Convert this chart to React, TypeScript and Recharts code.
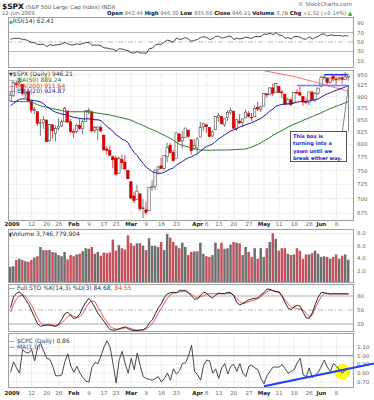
import React from "react";
import {ComposedChart, Line, Bar, Cell, XAxis, YAxis, CartesianGrid, ReferenceLine, ReferenceDot} from "recharts";

// trading days, 31 Dec 2008 .. 12 Jun 2009
const dates = [
    "12/31", "1/2", "1/5", "1/6", "1/7", "1/8", "1/9", "1/12", "1/13", "1/14", "1/15", "1/16", "1/20", "1/21", "1/22", "1/23", "1/26", "1/27", "1/28", "1/29", "1/30",
    "2/2", "2/3", "2/4", "2/5", "2/6", "2/9", "2/10", "2/11", "2/12", "2/13", "2/17", "2/18", "2/19", "2/20", "2/23", "2/24", "2/25", "2/26", "2/27",
    "3/2", "3/3", "3/4", "3/5", "3/6", "3/9", "3/10", "3/11", "3/12", "3/13", "3/16", "3/17", "3/18", "3/19", "3/20", "3/23", "3/24", "3/25", "3/26", "3/27", "3/30", "3/31",
    "4/1", "4/2", "4/3", "4/6", "4/7", "4/8", "4/9", "4/13", "4/14", "4/15", "4/16", "4/17", "4/20", "4/21", "4/22", "4/23", "4/24", "4/27", "4/28", "4/29", "4/30",
    "5/1", "5/4", "5/5", "5/6", "5/7", "5/8", "5/11", "5/12", "5/13", "5/14", "5/15", "5/18", "5/19", "5/20", "5/21", "5/22", "5/26", "5/27", "5/28", "5/29",
    "6/1", "6/2", "6/3", "6/4", "6/5", "6/8", "6/9", "6/10", "6/11", "6/12",
];

const opens = [
    890.59,
    902.99, 929.17, 931.17, 927.45, 905.73, 909.91, 890.40, 869.79, 867.28, 841.99, 844.45, 849.64, 806.77, 839.74, 822.16, 832.50, 837.30, 845.73, 868.89, 845.69,
    823.09, 825.69, 837.77, 831.75, 846.09, 868.24, 866.87, 827.41, 829.91, 833.95, 818.61, 791.06, 787.91, 775.87, 773.25, 744.69, 770.64, 765.76, 749.93,
    729.57, 704.44, 698.60, 708.27, 684.04, 680.76, 679.28, 719.59, 720.89, 751.97, 758.84, 753.88, 776.01, 797.92, 784.58, 772.31, 820.60, 806.81, 814.06, 828.68, 809.07, 790.88,
    793.59, 814.53, 835.13, 839.75, 834.12, 816.76, 829.29, 855.33, 856.88, 839.44, 854.54, 865.18, 868.27, 831.25, 847.26, 844.62, 853.91, 862.82, 854.48, 856.85, 876.59,
    872.74, 879.21, 906.10, 903.95, 919.58, 909.03, 922.99, 910.52, 905.40, 884.24, 892.76, 886.07, 909.67, 908.62, 900.42, 888.68, 887.00, 909.95, 892.96, 907.02,
    923.26, 942.87, 942.51, 932.49, 945.67, 938.12, 940.35, 942.73, 939.04, 943.44,
];
const highs = [
    910.32,
    934.73, 936.63, 943.85, 927.45, 910.00, 911.93, 890.40, 877.02, 867.28, 851.59, 858.13, 849.64, 841.72, 839.74, 838.61, 852.53, 850.45, 877.86, 868.89, 851.66,
    830.78, 842.60, 851.85, 850.55, 870.75, 875.01, 868.05, 838.22, 835.48, 839.43, 818.61, 796.17, 797.58, 778.69, 777.85, 775.49, 780.12, 779.42, 751.27,
    729.57, 711.67, 724.12, 708.27, 699.09, 695.27, 719.60, 731.92, 752.63, 758.29, 774.53, 778.12, 803.04, 803.24, 788.91, 823.37, 823.65, 826.78, 832.98, 828.68, 809.07, 810.48,
    813.62, 845.61, 842.50, 839.75, 834.12, 828.42, 856.91, 864.31, 856.88, 852.93, 870.35, 875.63, 868.27, 850.09, 861.78, 852.87, 871.80, 868.83, 864.48, 882.06, 888.70,
    880.48, 907.85, 907.70, 920.28, 929.58, 930.17, 922.99, 915.57, 905.40, 898.36, 896.97, 910.00, 916.39, 924.60, 900.42, 896.65, 911.76, 913.84, 909.45, 920.02,
    947.77, 949.38, 942.51, 942.47, 951.69, 946.33, 946.92, 949.77, 956.23, 946.30,
];
const lows = [
    889.67,
    899.35, 919.53, 927.28, 902.37, 896.81, 888.31, 864.32, 862.02, 836.93, 817.04, 830.66, 804.47, 804.30, 811.29, 806.07, 827.69, 835.40, 845.73, 844.15, 821.67,
    812.87, 821.98, 829.18, 819.91, 845.42, 861.65, 822.99, 822.30, 808.06, 825.21, 789.17, 780.43, 777.03, 754.25, 742.37, 744.69, 752.89, 751.75, 734.52,
    699.70, 692.30, 698.60, 677.93, 666.79, 672.88, 679.28, 713.85, 714.76, 742.46, 753.37, 749.93, 765.64, 781.82, 766.20, 772.31, 805.48, 791.37, 814.06, 813.43, 779.81, 790.88,
    783.32, 814.53, 826.70, 822.79, 814.53, 814.84, 829.29, 845.35, 840.25, 835.58, 847.04, 860.87, 832.39, 826.83, 840.57, 835.45, 853.91, 854.65, 847.12, 856.85, 868.51,
    866.10, 879.21, 897.34, 903.95, 901.36, 909.03, 908.68, 896.46, 882.79, 882.52, 878.94, 886.07, 905.22, 901.37, 879.61, 883.75, 881.46, 891.87, 887.60, 903.56,
    923.26, 938.46, 923.85, 929.32, 934.13, 926.44, 936.15, 927.97, 939.04, 935.66,
];
const closes = [
    903.25,
    931.80, 927.45, 934.70, 906.65, 909.73, 890.35, 870.26, 871.79, 842.62, 843.74, 850.12, 805.22, 840.24, 827.50, 831.95, 836.57, 845.71, 874.09, 845.14, 825.88,
    825.44, 838.51, 832.23, 845.85, 868.60, 869.89, 827.16, 833.74, 835.19, 826.84, 789.17, 788.42, 778.94, 770.05, 743.33, 773.14, 764.90, 752.83, 735.09,
    700.82, 696.33, 712.87, 682.55, 683.38, 676.53, 719.60, 721.36, 750.74, 756.55, 753.89, 778.12, 794.35, 784.04, 768.54, 822.92, 806.12, 813.88, 832.86, 815.94, 787.53, 797.87,
    811.08, 834.38, 842.50, 835.48, 815.55, 825.16, 856.56, 858.73, 841.50, 852.06, 865.30, 869.60, 832.39, 850.08, 843.55, 851.92, 866.23, 857.51, 855.16, 873.64, 872.81,
    877.52, 907.24, 903.80, 919.53, 907.39, 929.23, 909.24, 908.35, 883.92, 893.07, 882.88, 909.71, 908.13, 903.47, 888.33, 887.00, 910.33, 893.06, 906.83, 919.14,
    942.87, 944.74, 931.76, 942.46, 940.09, 939.14, 942.43, 939.15, 944.89, 946.21,
];
const prevClose = 890.64;

const ma50 = [
    889, 889, 889, 889, 889, 889, 888.5, 888, 885, 882, 880, 878, 876.5, 875, 873.5, 872, 871, 869.5, 868, 867, 867,
    867, 867, 867, 867, 867, 866.5, 866, 865, 864, 863, 862, 861, 860, 858.5, 857, 855.5, 854, 852.5, 851,
    849, 846, 843, 840.5, 838, 835, 832, 829.5, 827, 824, 821, 818, 815, 812, 808, 804, 800, 798, 796.5, 794.5, 793, 791.5,
    790, 789, 788.7, 788.5, 788.5, 788.7, 789, 789, 789, 789, 789, 789.3, 789.6, 790, 790.3, 790.6, 791, 793, 795, 797.5, 800,
    803.5, 807, 810, 814, 818, 821.5, 825, 828, 831.5, 835, 838, 841, 843.5, 846, 849, 851.5, 854, 857, 859.5, 862,
    865, 868, 871, 874, 876.5, 879, 881.5, 884, 886.5, 889.24,
];
const ema20 = [
    880, 885, 890, 894, 895, 895, 893, 892, 891, 890, 888, 884, 878, 874, 869, 866, 864, 862, 861, 860, 857,
    855, 854, 853, 852, 852, 852, 851, 850, 850, 848, 842, 836, 831, 826, 819, 815, 810, 808, 803,
    792, 784, 778, 770, 763, 756, 752, 748, 746, 745, 745, 747, 750, 753, 755, 760, 764, 767, 771, 774, 776, 779,
    782, 787, 792, 796, 798, 801, 806, 811, 815, 819, 823, 827, 829, 832, 835, 837, 840, 842, 844, 847, 850,
    853, 858, 863, 869, 873, 879, 881, 883, 883, 884, 884, 886, 888, 889, 889, 889, 891, 891, 893, 895,
    899, 903, 906, 909, 912, 914, 917, 919, 922, 924.87,
];
const ma200 = [
    ...Array(78).fill(null),
    967.5, 966, 964.7, 963.3, 962, 960.6, 959.2, 957.8, 956.5, 955, 953.7, 952.3, 951, 949.5, 948.2, 946.8, 945.4, 944,
    942, 940.2, 938.3, 936.4, 934.5, 932.6, 930.7, 928.8, 926.9, 925, 923, 921.2, 919.3, 917.4, 915.5, 913.6, 911.64,
];

// volume in billions
const volumes = [
    2.6,
    2.7, 3.7, 3.9, 3.7, 3.5, 3.4, 3.7, 4.1, 4.3, 5.8, 5.3, 5.3, 5.3, 5.0, 4.9, 4.5, 4.3, 5.0, 3.8, 4.5,
    4.3, 4.6, 4.7, 5.1, 5.6, 5.5, 5.8, 4.7, 5.0, 4.4, 4.9, 4.8, 4.9, 7.0, 5.2, 6.1, 5.6, 5.4, 7.7,
    6.4, 6.0, 6.4, 6.4, 6.0, 5.3, 7.2, 6.0, 6.0, 5.8, 6.6, 5.3, 7.9, 7.3, 6.6, 6.0, 5.6, 6.5, 5.8, 4.5, 5.0, 5.1,
    5.1, 6.5, 4.7, 4.3, 4.2, 4.5, 6.5, 5.5, 6.5, 5.5, 5.6, 6.2, 6.6, 6.5, 6.4, 4.5, 5.8, 5.0, 4.2, 5.6, 3.9,
    5.6, 4.2, 5.6, 6.6, 8.0, 7.1, 5.2, 5.6, 5.6, 4.7, 4.5, 4.6, 5.6, 5.2, 3.9, 4.6, 4.6, 4.8, 5.2, 4.7,
    4.2, 4.3, 4.2, 3.9, 4.2, 4.6, 3.9, 4.4, 4.6, 3.75,
];

const rsi = [
    55, 58, 57.5, 58, 55, 55, 52, 49, 48.5, 45, 44.5, 45.5, 40, 44.5, 43, 43.7, 44.5, 46, 49.5, 46, 44,
    44, 46, 45, 46.5, 49, 49, 43, 43.5, 43.5, 42, 37.5, 37.3, 35.5, 34.6, 31, 36, 35, 33.5, 31.5,
    27, 26.5, 30, 26.5, 27, 26, 36, 37, 44, 45.5, 45, 50, 54, 52, 49.5, 58.5, 55.5, 56.5, 59.5, 56, 51.5, 53.5,
    55.5, 59.5, 61, 59.5, 55.5, 57, 62, 62, 58, 59.5, 62, 62.5, 55, 58, 56.5, 58, 60.5, 58.5, 58, 61.5, 61,
    62, 67, 66, 69, 65.5, 69.5, 64.5, 64, 57.5, 59.5, 56.5, 62, 61.5, 60, 56.5, 56, 61, 56.5, 59.5, 62,
    66.5, 67, 62.5, 65, 64, 63.5, 64, 62.5, 63.5, 62.41,
];

const stoK = [
    55, 78, 86, 89, 82, 72, 62, 48, 34, 20, 15, 17, 18, 18, 16, 15, 20, 30, 42, 45, 38,
    32, 34, 42, 56, 67, 75, 66, 55, 43, 34, 26, 16, 8, 7, 7, 10, 12, 14, 10,
    7, 6, 6, 7, 8, 12, 22, 29, 42, 55, 64, 77, 85, 87, 88, 87, 92, 92, 92, 87, 80, 73,
    74, 82, 88, 86, 79, 76, 82, 86, 85, 85, 88, 87, 80, 66, 61, 64, 68, 72, 74, 75, 76,
    83, 87, 95, 94, 91, 89, 89, 80, 66, 54, 51, 57, 60, 58, 45, 33, 32, 44, 62, 78,
    88, 87, 85, 84, 85, 85, 84.7, 84.7, 84.6, 84.68,
];
const stoD = [
    45, 62, 74, 80, 82, 79, 70, 60, 46, 33, 22, 18, 17.5, 18, 18, 17, 18, 22, 29, 36, 40,
    36, 34, 36, 44, 55, 65, 70, 68, 56, 45, 33, 25, 15, 11, 9, 9, 10, 12, 12,
    10, 8, 7, 7, 7, 9, 14, 21, 31, 43, 54, 65, 75, 83, 86, 87, 89, 89, 90, 87, 84, 79,
    76, 78, 81, 84, 85, 85, 85, 85, 85, 85, 85, 85, 82, 74, 68, 64, 65, 68, 70, 72, 74,
    79, 84, 89, 92, 92, 90, 87, 80, 72, 63, 57, 55, 53, 52, 50, 42, 36, 39, 55, 67,
    79, 85, 86, 85, 84.5, 84.5, 84.6, 84.6, 84.5, 84.55,
];

const cpc = [
    0.81, 0.93, 0.86, 0.80, 1.07, 1.04, 1.03, 1.07, 0.94, 1.10, 1.14, 1.05, 0.97, 0.96, 0.88, 0.77, 0.77, 0.78, 0.93, 1.02, 0.88,
    0.81, 0.88, 0.80, 0.75, 0.71, 0.70, 0.87, 0.92, 0.91, 1.00, 1.10, 1.17, 1.10, 0.90, 0.69, 0.95, 1.05, 0.91, 0.80,
    0.97, 0.84, 1.03, 0.88, 0.76, 0.74, 0.73, 0.72, 0.74, 0.76, 0.70, 0.74, 0.80, 0.72, 0.85, 0.79, 0.83, 0.91, 0.92, 1.00, 1.12, 0.82,
    0.78, 0.72, 0.89, 0.95, 0.94, 0.80, 0.85, 0.74, 0.86, 0.91, 0.79, 0.88, 0.90, 0.82, 0.91, 0.80, 0.76, 0.88, 0.89, 0.86, 0.84,
    0.74, 0.68, 0.77, 0.82, 0.87, 0.87, 0.87, 0.90, 0.85, 0.80, 0.82, 0.84, 0.92, 0.97, 0.78, 0.76, 0.86, 0.75, 0.78, 0.81,
    0.88, 0.95, 0.87, 0.82, 0.91, 0.88, 0.84, 0.80, 0.84, 0.86,
];

const tickDates = ["1/5", "1/12", "1/20", "1/26", "2/2", "2/9", "2/17", "2/23", "3/2", "3/9", "3/16", "3/23", "4/1", "4/6", "4/13", "4/20", "4/27", "5/4", "5/11", "5/18", "5/26", "6/1", "6/8"];
const tickLabels = ["2009", "12", "20", "26", "Feb", "9", "17", "23", "Mar", "9", "16", "23", "Apr", "6", "13", "20", "27", "May", "11", "18", "26", "Jun", "8"];

const priceTicks = [675, 700, 725, 750, 775, 800, 825, 850, 875, 900, 925, 950];
const volTicks = [2, 4, 6, 8];
const rsiTicks = [10, 30, 50, 70, 90];
const stoTicks = [20, 50, 80];
const cpcTicks = [0.7, 0.8, 0.9, 1.0, 1.1];

const rows = dates.map((d, i) => ({
    d,
    o: opens[i], h: highs[i], l: lows[i], c: closes[i],
    pc: i ? closes[i - 1] : prevClose,
    hl: [lows[i], highs[i]],
    vol: volumes[i],
    rsi: rsi[i],
    k: stoK[i],
    dd: stoD[i],
    cpc: cpc[i],
    ma50: ma50[i],
    ema20: ema20[i],
    ma200: ma200[i],
}));

const W = 374;
const M = {top: 0, right: 0, bottom: 0, left: 9};
const RED = "#d40000";
const GRID = "#e2e2e2";

const Candle = (p: any) => {
    const {x, y, width, height, payload} = p;
    if (!payload) return null;
    const yTop = Math.min(y, y + height);
    const yBot = Math.max(y, y + height);
    const lh = Math.log(payload.h), ll = Math.log(payload.l);
    const py = (v: number) => yTop + (yBot - yTop) * (lh - Math.log(v)) / (lh - ll || 1);
    const col = payload.c < payload.pc ? RED : "#444";
    const hollow = payload.c >= payload.o;
    const bTop = py(Math.max(payload.o, payload.c));
    const bBot = py(Math.min(payload.o, payload.c));
    const cx = x + width / 2;
    return (
        <g>
            <line x1={cx} x2={cx} y1={yTop} y2={yBot} stroke={col} strokeWidth={0.7}/>
            <rect x={x} y={bTop} width={width} height={Math.max(bBot - bTop, 0.6)}
                  fill={hollow ? "#fff" : col} stroke={col} strokeWidth={0.6}/>
        </g>
    );
};

const XTick = ({x, y, payload, dy}: any) => {
    const lab = tickLabels[tickDates.indexOf(payload.value)];
    const strong = /[A-Za-z]/.test(lab) || lab === "2009";
    return (
        <text x={x + (lab === "2009" ? -4.5 : 0)} y={y} dy={dy} textAnchor="middle" fontSize={5.5}
              fontWeight={strong ? 700 : 400} fill={strong ? "#222" : "#666"}>{lab}</text>
    );
};

const YTick = ({x, y, payload, fmt}: any) => (
    <text x={x} y={y} dy={2} textAnchor="start" fontSize={5.5} fill="#666">
        {fmt ? fmt(payload.value) : payload.value}
    </text>
);

const xAxisProps = {
    dataKey: "d",
    scale: "band" as const,
    ticks: tickDates,
    interval: 0,
    padding: {left: 0, right: 3},
    tickLine: false,
    axisLine: false,
    tickSize: 0,
    tickMargin: 0,
};

const yAxisProps = {
    orientation: "right" as const,
    width: 21,
    allowDataOverflow: true,
    tickLine: false,
    axisLine: false,
    tickSize: 0,
    tickMargin: 4,
    interval: 0,
};

const Frame = ({top, height}: { top: number, height: number }) => (
    <div style={{
        position: "absolute", left: 8, top, width: 346, height, border: "1px solid #a0a0a0",
        boxSizing: "border-box", pointerEvents: "none",
    }}/>
);

const legend: React.CSSProperties = {position: "absolute", fontSize: 6, lineHeight: "5.5px", whiteSpace: "nowrap", color: "#333"};

// CPC panel geometry, used only for the trend line stub past the plot edge
const CPC_TOP = 333, CPC_H = 55, CPC_MIN = 0.631, CPC_MAX = 1.259;
const cpcY = (v: number) => CPC_TOP + (CPC_MAX - v) / (CPC_MAX - CPC_MIN) * CPC_H;

export default function App() {
    return (
        <div style={{
            position: "absolute", left: 0, top: 0, width: W, height: 400, overflow: "hidden",
            background: "#fff", fontFamily: "'DejaVu Sans', sans-serif",
        }}>
            {/* header */}
            <div style={{position: "absolute", left: 2, top: 0, whiteSpace: "nowrap", lineHeight: "8px"}}>
                <span style={{fontSize: 7.5, fontWeight: 700, color: "#111"}}>$SPX</span>
                <span style={{fontSize: 5.5, color: "#555"}}> (S&amp;P 500 Large Cap Index) INDX</span>
            </div>
            <div style={{position: "absolute", right: 22, top: 1, fontSize: 5.5, lineHeight: "6px", color: "#666"}}>© StockCharts.com</div>
            <div style={{position: "absolute", left: 2, top: 9.5, fontSize: 5.3, lineHeight: "6px", color: "#666"}}>12-Jun-2009</div>
            <div style={{position: "absolute", right: 22, top: 9.5, fontSize: 5.3, lineHeight: "6px", color: "#666", whiteSpace: "nowrap"}}>
                <b style={{color: "#111"}}>Open</b> 943.44 <b style={{color: "#111"}}>High</b> 946.30{" "}
                <b style={{color: "#111"}}>Low</b> 935.66 <b style={{color: "#111"}}>Close</b> 946.21{" "}
                <b style={{color: "#111"}}>Volume</b> 3.7B <b style={{color: "#111"}}>Chg</b> +1.32 (+0.14%){" "}
                <span style={{color: "#2a2"}}>▲</span>
            </div>

            {/* RSI */}
            <div style={{position: "absolute", left: 0, top: 17}}>
                <ComposedChart width={W} height={51} data={rows} margin={M}>
                    <CartesianGrid stroke={GRID} strokeWidth={0.6} horizontal={false}/>
                    <XAxis {...xAxisProps} height={0} tick={false}/>
                    <YAxis {...yAxisProps} domain={[-4.9, 102.8]} ticks={rsiTicks} tick={<YTick/>}/>
                    <ReferenceLine y={70} stroke="#9a9a9a" strokeWidth={0.7}/>
                    <ReferenceLine y={30} stroke="#9a9a9a" strokeWidth={0.7}/>
                    <ReferenceLine y={50} stroke="#9a9a9a" strokeWidth={0.7} strokeDasharray="5 2 1 2"/>
                    <Line dataKey="rsi" stroke="#333" strokeWidth={0.9} dot={false} activeDot={false} isAnimationActive={false}/>
                </ComposedChart>
            </div>
            <Frame top={17} height={51}/>
            <div style={{...legend, left: 9, top: 17.5}}>
                <span style={{color: "#3a6", fontSize: 5}}>▲</span>RSI(14) 62.41
            </div>

            {/* price */}
            <div style={{position: "absolute", left: 0, top: 70}}>
                <ComposedChart width={W} height={159} data={rows} margin={M}>
                    <CartesianGrid stroke={GRID} strokeWidth={0.6}/>
                    <XAxis {...xAxisProps} height={8} tick={<XTick dy={5}/>}/>
                    <YAxis {...yAxisProps} scale="log" domain={[662.3, 961]} ticks={priceTicks} tick={<YTick/>}/>
                    <Line dataKey="ma50" stroke="#2a7a2a" strokeWidth={1} dot={false} activeDot={false} isAnimationActive={false}/>
                    <Line dataKey="ma200" stroke="#f07070" strokeWidth={1} dot={false} activeDot={false} isAnimationActive={false}/>
                    <Line dataKey="ema20" stroke="#1c1c9c" strokeWidth={1} dot={false} activeDot={false} isAnimationActive={false}/>
                    <Bar dataKey="hl" shape={Candle} barSize={2.4} isAnimationActive={false}/>
                    <ReferenceLine segment={[{x: "5/19", y: 925}, {x: "6/12", y: 925}]} stroke="#6f7cff" strokeWidth={1.5}/>
                    <ReferenceLine segment={[{x: "6/2", y: 950}, {x: "6/12", y: 950}]} stroke="#1f2fe8" strokeWidth={1.5}/>
                    <ReferenceLine segment={[{x: "6/12", y: 925}, {x: "6/10", y: 826.6}]} stroke="#666" strokeWidth={0.8}/>
                    <ReferenceLine segment={[{x: "6/12", y: 925}, {x: "6/12", y: 826.6}]} stroke="#666" strokeWidth={0.8}/>
                </ComposedChart>
            </div>
            <Frame top={70} height={151}/>
            <div style={{...legend, left: 9, top: 70.8}}>
                <div><span style={{fontSize: 5}}>▼</span>$SPX (Daily) 946.21</div>
                <div style={{color: "#2a7a2a"}}>— MA(50) 889.24</div>
                <div style={{color: "#e03030"}}>— MA(200) 911.64</div>
                <div style={{color: "#1c1c9c"}}>— EMA(20) 924.87</div>
            </div>
            <div style={{
                position: "absolute", left: 290, top: 131, width: 57, height: 31, border: "1px solid #556",
                background: "#fff", color: "#1a1ad0", fontSize: 5, fontWeight: 700, lineHeight: "7.4px",
                padding: "1px 2px", boxSizing: "border-box", whiteSpace: "nowrap",
            }}>
                This box is<br/>turning into a<br/>yawn until we<br/>break either way.
            </div>

            {/* volume */}
            <div style={{position: "absolute", left: 0, top: 229}}>
                <ComposedChart width={W} height={54} data={rows} margin={M}>
                    <CartesianGrid stroke={GRID} strokeWidth={0.6}/>
                    <XAxis {...xAxisProps} height={0} tick={false}/>
                    <YAxis {...yAxisProps} domain={[0, 8.69]} ticks={volTicks} tick={<YTick fmt={(v: number) => v.toFixed(1)}/>}/>
                    <Bar dataKey="vol" barSize={2.5} isAnimationActive={false}>
                        {rows.map((r, i) => (
                            <Cell key={`v-${i}`} fill={r.c < r.pc ? "#c8505c" : "#6e6e6e"}/>
                        ))}
                    </Bar>
                </ComposedChart>
            </div>
            <Frame top={229} height={54}/>
            <div style={{...legend, left: 9, top: 230.5}}>
                <span style={{fontSize: 5}}>▮</span>Volume 3,746,779,904
            </div>

            {/* full stochastics */}
            <div style={{position: "absolute", left: 0, top: 284}}>
                <ComposedChart width={W} height={48} data={rows} margin={M}>
                    <CartesianGrid stroke={GRID} strokeWidth={0.6} horizontal={false}/>
                    <XAxis {...xAxisProps} height={0} tick={false}/>
                    <YAxis {...yAxisProps} domain={[2.9, 105.7]} ticks={stoTicks} tick={<YTick/>}/>
                    <ReferenceLine y={80} stroke="#999" strokeWidth={0.8}/>
                    <ReferenceLine y={20} stroke="#999" strokeWidth={0.8}/>
                    <ReferenceLine y={50} stroke="#999" strokeWidth={0.7} strokeDasharray="5 2 1 2"/>
                    <Line dataKey="dd" stroke="#e84040" strokeWidth={0.9} dot={false} activeDot={false} isAnimationActive={false}/>
                    <Line dataKey="k" stroke="#111" strokeWidth={0.9} dot={false} activeDot={false} isAnimationActive={false}/>
                </ComposedChart>
            </div>
            <Frame top={284} height={48}/>
            <div style={{...legend, left: 9, top: 284.5}}>
                — Full STO %K(14,3) %D(3) 84.68, <span style={{color: "#e84040"}}>84.55</span>
            </div>

            {/* put/call ratio: bottom layer holds grid, labels and the yellow marker */}
            <div style={{position: "absolute", left: 0, top: CPC_TOP}}>
                <ComposedChart width={W} height={CPC_H + 9} data={rows} margin={M}>
                    <CartesianGrid stroke={GRID} strokeWidth={0.6}/>
                    <XAxis {...xAxisProps} height={9} tick={<XTick dy={7}/>}/>
                    <YAxis {...yAxisProps} domain={[CPC_MIN, CPC_MAX]} ticks={cpcTicks} tick={<YTick fmt={(v: number) => v.toFixed(2)}/>}/>
                    <ReferenceDot x="6/10" y={0.817} r={7.5} fill="#ffff00" stroke="#e6e600" strokeWidth={0.5}/>
                </ComposedChart>
            </div>
            {/* top layer: the series and the trend lines */}
            <div style={{position: "absolute", left: 0, top: CPC_TOP}}>
                <ComposedChart width={W} height={CPC_H + 9} data={rows} margin={M}>
                    <XAxis {...xAxisProps} height={9} tick={false}/>
                    <YAxis {...yAxisProps} domain={[CPC_MIN, CPC_MAX]} ticks={cpcTicks} tick={false}/>
                    <ReferenceLine y={1} stroke="#7272b8" strokeWidth={1}/>
                    <Line dataKey="cpc" stroke="#333" strokeWidth={0.9} dot={false} activeDot={false} isAnimationActive={false}/>
                    <ReferenceLine segment={[{x: "5/4", y: 0.65}, {x: "6/12", y: 0.85}]} stroke="#1e3cff" strokeWidth={2}/>
                </ComposedChart>
            </div>
            <Frame top={CPC_TOP} height={CPC_H}/>
            <svg width={W} height={400} style={{position: "absolute", left: 0, top: 0, pointerEvents: "none"}}>
                <line x1={348.5} y1={cpcY(0.85)} x2={374} y2={cpcY(0.91)} stroke="#1e3cff" strokeWidth={2}/>
            </svg>
            <div style={{...legend, left: 9, top: 338}}>
                <div>— $CPC (Daily) 0.86</div>
                <div style={{color: "#4444aa"}}>— MA(1,0)</div>
            </div>
        </div>
    );
}
